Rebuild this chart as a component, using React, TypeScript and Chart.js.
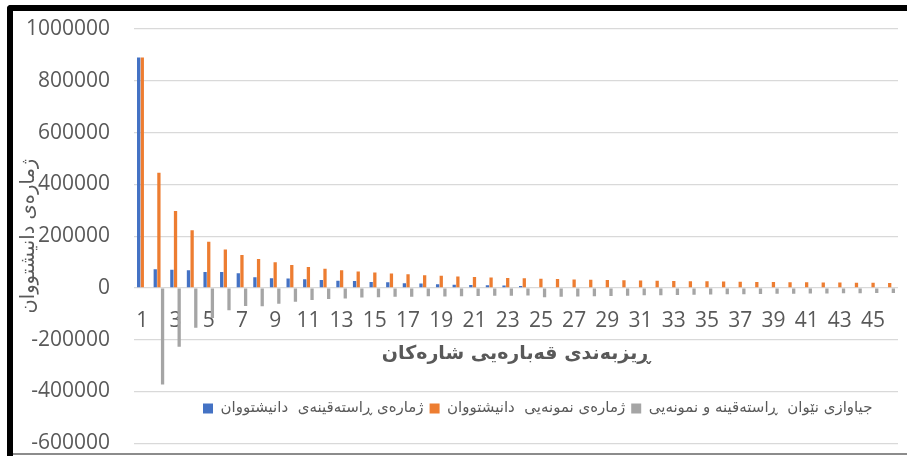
import React, { useEffect, useRef } from 'react';
import { Chart, registerables } from 'chart.js';

Chart.register(...registerables);

// ---- data ----
const CATEGORIES = [
  '1', '2', '3', '4', '5', '6', '7', '8', '9', '10',
  '11', '12', '13', '14', '15', '16', '17', '18', '19', '20',
  '21', '22', '23', '24', '25', '26', '27', '28', '29', '30',
  '31', '32', '33', '34', '35', '36', '37', '38', '39', '40',
  '41', '42', '43', '44', '45', '46',
];

const SERIES_NAMES = [
  'ژمارەی ڕاستەقینەی  دانیشتووان',
  'ژمارەی نمونەیی  دانیشتووان',
  'جیاوازی نێوان  ڕاستەقینە و نمونەیی',
];

// actual population
const ACTUAL = [
  890000, 72000, 70000, 68500, 62000, 62000, 57000, 41000, 37500, 36000,
  34000, 31000, 28000, 26500, 23000, 21500, 18000, 17500, 14000, 12000,
  11500, 10000, 9000, 7500, 0, 0, 0, 0, 0, 0,
  0, 0, 0, 0, 0, 0, 0, 0, 0, 0,
  0, 0, 0, 0, 0, 0,
];

// model (expected) population
const MODEL = [
  890000, 445000, 296700, 222500, 178000, 148300, 127100, 111300, 98900, 89000,
  80900, 74200, 68500, 63600, 59300, 55600, 52400, 49400, 46800, 44500,
  42400, 40500, 38700, 37100, 35600, 34200, 33000, 31800, 30700, 29700,
  28700, 27800, 27000, 26200, 25400, 24700, 24100, 23400, 22800, 22300,
  21700, 21200, 20700, 20200, 19800, 19300,
];

// difference actual - model
const DIFFERENCE = [
  0, -373000, -226700, -154000, -116000, -86300, -70100, -70300, -61400, -53000,
  -46900, -43200, -40500, -37100, -36300, -34100, -34400, -31900, -32800, -32500,
  -30900, -30500, -29700, -29600, -35600, -34200, -33000, -31800, -30700, -29700,
  -28700, -27800, -27000, -26200, -25400, -24700, -24100, -23400, -22800, -22300,
  -21700, -21200, -20700, -20200, -19800, -19300,
];

const Y_MIN = -600000;
const Y_MAX = 1000000;
const Y_STEP = 200000;

const Y_TITLE = 'ژمارەی دانیشتووان';
const X_TITLE = 'ڕیزبەندی قەبارەیی شارەکان';

const COLORS = ['#4472C4', '#ED7D31', '#A5A5A5'];

// ---- legend placement inside plot area ----
const LEGEND_LEFT = 197;
const LEGEND_TOP = 395;

const legendPlacer = {
  id: 'legendPlacer',
  beforeLayout(chart: any) {
    const lg = chart.legend;
    if (lg && !lg.__patched) {
      const origFit = lg.fit;
      lg.fit = function () {
        origFit.call(this);
        this.__h = this.height;
        this.height = 0;
      };
      lg.__patched = true;
    }
  },
  afterLayout(chart: any) {
    const lg = chart.legend;
    if (!lg) return;
    lg.left = LEGEND_LEFT;
    lg.right = LEGEND_LEFT + 705;
    lg.width = 705;
    lg.top = LEGEND_TOP;
    lg.height = lg.__h || 30;
    lg.bottom = lg.top + lg.height;
  },
};

const TICK_FONT = { family: '"Open Sans", sans-serif', size: 21 };
const AR_FONT = '"DejaVu Sans", sans-serif';

export default function App() {
  const ref = useRef<HTMLCanvasElement>(null);

  useEffect(() => {
    const chart = new Chart(ref.current as HTMLCanvasElement, {
      type: 'bar',
      data: {
        labels: CATEGORIES,
        datasets: [
          { label: SERIES_NAMES[0], data: ACTUAL, backgroundColor: COLORS[0], borderWidth: 0 },
          { label: SERIES_NAMES[1], data: MODEL, backgroundColor: COLORS[1], borderWidth: 0 },
          { label: SERIES_NAMES[2], data: DIFFERENCE, backgroundColor: COLORS[2], borderWidth: 0 },
        ],
      },
      options: {
        responsive: false,
        animation: false,
        devicePixelRatio: 1,
        layout: { padding: { left: 13, top: 29, right: 9, bottom: 12.7 } },
        datasets: { bar: { categoryPercentage: 0.66, barPercentage: 0.9 } },
        plugins: {
          tooltip: { enabled: false },
          legend: {
            position: 'top',
            align: 'start',
            labels: {
              boxWidth: 10,
              boxHeight: 10,
              padding: 6,
              color: '#595959',
              font: { family: AR_FONT, size: 15 },
            },
          },
        },
        scales: {
          x: {
            type: 'category',
            position: { y: 0 } as any,
            grid: { display: false, drawTicks: true, tickLength: 20 },
            border: { display: false },
            ticks: {
              autoSkip: false,
              maxRotation: 0,
              minRotation: 0,
              padding: 0,
              color: '#595959',
              font: TICK_FONT,
              callback: (_v: any, i: number) => (i % 2 === 0 ? CATEGORIES[i] : ''),
            },
            title: {
              display: true,
              text: X_TITLE,
              color: '#595959',
              font: { family: AR_FONT, size: 19, weight: 'bold' },
              padding: { top: 0, bottom: -78 },
            },
            afterFit: (s: any) => {
              s.height = 0;
            },
          },
          y: {
            min: Y_MIN,
            max: Y_MAX,
            grid: {
              color: '#d9d9d9',
              lineWidth: 1.3,
              drawTicks: true,
              tickLength: 24,
              tickColor: 'rgba(0,0,0,0)',
            },
            border: { display: false },
            ticks: {
              stepSize: Y_STEP,
              padding: 0,
              color: '#595959',
              font: TICK_FONT,
              callback: (v: any) => String(v),
            },
            title: {
              display: true,
              text: Y_TITLE,
              color: '#595959',
              font: { family: AR_FONT, size: 19.5 },
              padding: { top: 4, bottom: 0 },
            },
            afterFit: (s: any) => {
              s.width = 121;
            },
          },
        },
      },
      plugins: [legendPlacer],
    } as any);
    return () => chart.destroy();
  }, []);

  return (
    <div style={{ position: 'fixed', left: 0, top: 0, width: 907, height: 456, background: '#fff', overflow: 'hidden' }}>
      <canvas
        ref={ref}
        width={907}
        height={456}
        style={{ position: 'absolute', left: 0, top: 0, width: 907, height: 456 }}
      />
      <div
        style={{
          position: 'absolute',
          left: 13,
          top: 453,
          width: 894,
          height: 2,
          background: '#8c8c8c',
          pointerEvents: 'none',
        }}
      />
      <div
        style={{
          position: 'absolute',
          left: 7,
          top: 5,
          width: 910,
          height: 460,
          borderTop: '6px solid #000',
          borderLeft: '6px solid #000',
          borderTopLeftRadius: 4,
          boxSizing: 'border-box',
          pointerEvents: 'none',
        }}
      />
    </div>
  );
}
